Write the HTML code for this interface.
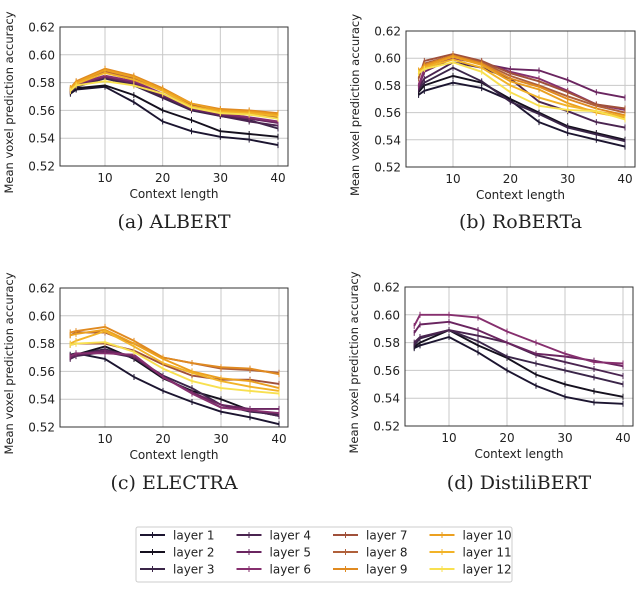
<!DOCTYPE html>
<html><head><meta charset="utf-8">
<style>
body{margin:0;background:#fff;}
svg{display:block;font-family:"DejaVu Sans","Liberation Sans",sans-serif;}
.cap{font-family:"DejaVu Serif","Liberation Serif",serif;font-size:19px;fill:#222;}
</style></head>
<body>
<svg id="fig" width="640" height="589" viewBox="0 0 640 589"></svg>
<script>
const xValues=[4,5,10,15,20,25,30,35,40];
const yTicks=[0.52,0.54,0.56,0.58,0.60,0.62];
const xTicks=[10,20,30,40];
const layerNames=["layer 1","layer 2","layer 3","layer 4","layer 5","layer 6","layer 7","layer 8","layer 9","layer 10","layer 11","layer 12"];
const albert=[
[.572,.575,.577,.566,.552,.545,.541,.539,.535],
[.573,.576,.578,.571,.560,.553,.545,.543,.541],
[.573,.577,.583,.578,.569,.560,.556,.553,.547],
[.574,.578,.584,.579,.570,.561,.556,.552,.549],
[.574,.578,.584,.580,.571,.561,.557,.554,.551],
[.574,.579,.585,.581,.572,.562,.558,.555,.552],
[.575,.580,.589,.584,.575,.564,.559,.558,.556],
[.575,.580,.588,.583,.574,.563,.558,.557,.555],
[.576,.581,.590,.585,.576,.565,.561,.560,.558],
[.576,.580,.589,.584,.575,.565,.560,.559,.557],
[.575,.579,.587,.582,.574,.563,.559,.558,.556],
[.574,.578,.581,.578,.572,.562,.558,.557,.554]];
const roberta=[
[.573,.576,.582,.578,.569,.553,.545,.540,.535],
[.575,.580,.587,.582,.570,.560,.550,.545,.540],
[.577,.582,.593,.583,.568,.559,.549,.544,.539],
[.578,.585,.597,.593,.585,.568,.561,.553,.549],
[.579,.590,.600,.596,.592,.591,.584,.575,.571],
[.580,.592,.600,.597,.590,.585,.576,.566,.562],
[.585,.598,.603,.598,.589,.583,.575,.566,.563],
[.588,.596,.602,.597,.587,.580,.572,.565,.560],
[.590,.595,.602,.596,.585,.579,.570,.563,.558],
[.591,.594,.601,.595,.583,.577,.567,.560,.556],
[.590,.593,.599,.593,.580,.571,.565,.561,.557],
[.589,.592,.597,.590,.575,.565,.562,.561,.555]];
const electra=[
[.572,.573,.569,.556,.546,.538,.531,.527,.522],
[.571,.572,.578,.569,.555,.546,.540,.532,.528],
[.570,.572,.576,.570,.557,.548,.536,.531,.529],
[.569,.571,.574,.570,.556,.545,.534,.532,.528],
[.570,.572,.575,.571,.556,.545,.536,.533,.533],
[.571,.573,.573,.572,.556,.544,.534,.532,.530],
[.579,.580,.580,.575,.565,.557,.554,.554,.551],
[.586,.588,.588,.580,.570,.566,.562,.561,.559],
[.588,.589,.592,.582,.570,.566,.563,.562,.558],
[.586,.587,.590,.580,.569,.560,.555,.553,.548],
[.580,.582,.589,.578,.566,.559,.553,.549,.546],
[.579,.580,.581,.574,.562,.553,.548,.546,.544]];
const distilbert=[
[.576,.578,.584,.573,.560,.549,.541,.537,.536],
[.577,.580,.589,.578,.569,.557,.550,.545,.541],
[.578,.583,.589,.581,.570,.565,.560,.555,.550],
[.580,.584,.589,.585,.580,.571,.566,.561,.556],
[.587,.593,.595,.589,.580,.572,.570,.567,.563],
[.592,.600,.600,.598,.588,.580,.572,.566,.565]];
const colors=["#1c1530","#15101e","#3a2548","#4a2450","#6a2560","#862f6e","#a0503a","#b0603a","#e08a20","#eba020","#f2b328","#f8e050"];
const NS="http://www.w3.org/2000/svg";
const svg=document.getElementById('fig');
function mk(tag,attrs,parent){const e=document.createElementNS(NS,tag);for(const k in attrs)e.setAttribute(k,attrs[k]);(parent||svg).appendChild(e);return e;}
const panels=[
{key:"albert",data:albert,cap:"(a) ALBERT",l:60,r:288,t:27,b:166,x10:105,x40:278,capY:228},
{key:"roberta",data:roberta,cap:"(b) RoBERTa",l:406,r:635,t:31,b:167,x10:453,x40:625,capY:228},
{key:"electra",data:electra,cap:"(c) ELECTRA",l:60,r:288,t:288,b:427,x10:105,x40:279,capY:489},
{key:"distilbert",data:distilbert,cap:"(d) DistiliBERT",l:405,r:633,t:287,b:426,x10:449,x40:623,capY:489}];
panels.forEach(p=>{
  const g=mk('g',{});
  
  
  const sx=v=>p.x10+(v-10)*(p.x40-p.x10)/30;
  const sy=v=>p.b-(v-0.52)*(p.b-p.t)/0.10;
  yTicks.forEach(t=>{
    const gl=mk('line',{x1:p.l,x2:p.r,y1:sy(t),y2:sy(t),stroke:'#c8c8c8','stroke-width':1},g);
    
    const tl=mk('text',{x:p.l-5,y:sy(t)+4.5,'text-anchor':'end','font-size':12,fill:'#222'},g);
    tl.textContent=t.toFixed(2);
    
  });
  xTicks.forEach(t=>{
    const gl=mk('line',{x1:sx(t),x2:sx(t),y1:p.t,y2:p.b,stroke:'#c8c8c8','stroke-width':1},g);
    
    const tl=mk('text',{x:sx(t),y:p.b+16,'text-anchor':'middle','font-size':12,fill:'#222'},g);
    tl.textContent=t;
    
  });
  p.data.forEach((s,i)=>{
    const pts=s.map((v,j)=>sx(xValues[j]).toFixed(1)+','+sy(v).toFixed(1)).join(' ');
    const pl=mk('polyline',{points:pts,fill:'none',stroke:colors[i],'stroke-width':1.9,'stroke-linejoin':'round'},g);
    
    
    s.forEach((v,j)=>{
      const tk=mk('line',{x1:sx(xValues[j]),x2:sx(xValues[j]),y1:sy(v)-3,y2:sy(v)+3,stroke:colors[i],'stroke-width':1},g);
      
    });
  });
  const fr=mk('rect',{x:p.l,y:p.t,width:p.r-p.l,height:p.b-p.t,fill:'none',stroke:'#333','stroke-width':1},g);
  
  const xt=mk('text',{x:(p.l+p.r)/2,y:p.b+32,'text-anchor':'middle','font-size':12,fill:'#222'},g);
  xt.textContent='Context length';
  
  const cy=(p.t+p.b)/2+6, cx=p.l-47;
  const yt=mk('text',{x:cx,y:cy,'text-anchor':'middle','font-size':11.5,fill:'#222',transform:`rotate(-90 ${cx} ${cy})`},g);
  yt.textContent='Mean voxel prediction accuracy';
  
  const cp=mk('text',{x:(p.l+p.r)/2,y:p.capY,'text-anchor':'middle',class:'cap'},g);
  cp.textContent=p.cap;
  
});
const lg=mk('g',{});


mk('rect',{x:136,y:527,width:376,height:55,fill:'#fff',stroke:'#ccc','stroke-width':1,rx:2},lg);
layerNames.forEach((n,i)=>{
  const col=Math.floor(i/3),row=i%3;
  const lx=140+col*96.5,ly=535+row*17;
  const e=mk('g',{},lg);
  
  
  mk('line',{x1:lx,x2:lx+25,y1:ly,y2:ly,stroke:colors[i],'stroke-width':1.9},e);
  mk('line',{x1:lx+12.5,x2:lx+12.5,y1:ly-3,y2:ly+3,stroke:colors[i],'stroke-width':1},e);
  const t=mk('text',{x:lx+33,y:ly+4.5,'font-size':12,fill:'#222'},e);
  t.textContent=n;
});
</script>
</body></html>
